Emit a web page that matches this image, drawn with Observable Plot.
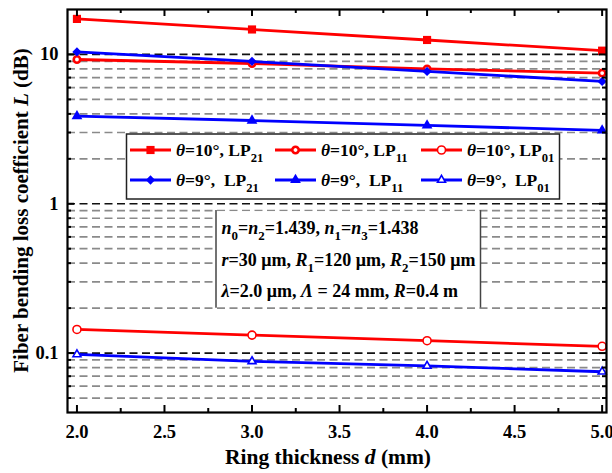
<!DOCTYPE html>
<html>
<head>
<meta charset="utf-8">
<script src="https://cdn.jsdelivr.net/npm/d3@7"></script>
<script src="https://cdn.jsdelivr.net/npm/@observablehq/plot@0.6"></script>
<style>
  body { margin: 0; background: #fff; }
  #chart svg { display: block; }
</style>
</head>
<body>
<div id="chart"></div>
<script>
// Ring thickness d (mm)
const thickness = [2.0, 3.0, 4.0, 5.0];

// Bending loss L (dB) for each angle / mode
const t10_LP21 = [17.3, 14.7, 12.5, 10.6];
const t10_LP11 = [9.25, 8.7, 8.0, 7.5];
const t10_LP01 = [0.144, 0.132, 0.121, 0.111];
const t9_LP21 = [10.4, 8.98, 7.7, 6.6];
const t9_LP11 = [3.86, 3.61, 3.35, 3.1];
const t9_LP01 = [0.098, 0.088, 0.082, 0.075];

// Axis ticks
const xMajor = [2.0, 2.5, 3.0, 3.5, 4.0, 4.5, 5.0];
const xMinor = [2.25, 2.75, 3.25, 3.75, 4.25, 4.75];
const yMajor = [0.1, 1, 10];
const yMinor = [0.05, 0.06, 0.07, 0.08, 0.09, 0.2, 0.3, 0.4, 0.5, 0.6, 0.7, 0.8, 0.9,
                2, 3, 4, 5, 6, 7, 8, 9];

const RED = "#ff0000", BLUE = "#0000ff";

const series = [
  {values: t10_LP21, color: RED,  symbol: "square",   fill: RED,    r: 4.6, sw: 0,   angle: "10", mode: "21", gap: " "},
  {values: t10_LP11, color: RED,  symbol: "circle",   fill: "#fff", r: 3.2, sw: 2.6, angle: "10", mode: "11", gap: " "},
  {values: t10_LP01, color: RED,  symbol: "circle",   fill: "#fff", r: 4.0, sw: 1.6, angle: "10", mode: "01", gap: " "},
  {values: t9_LP21,  color: BLUE, symbol: "diamond2", fill: BLUE,   r: 4.2, sw: 0,   angle: "9",  mode: "21", gap: "\u00a0\u00a0"},
  {values: t9_LP11,  color: BLUE, symbol: "triangle", fill: BLUE,   r: 4.0, sw: 0,   angle: "9",  mode: "11", gap: "\u00a0\u00a0"},
  {values: t9_LP01,  color: BLUE, symbol: "triangle2",fill: "#fff", r: 3.8, sw: 1.6, angle: "9",  mode: "01", gap: "\u00a0\u00a0"}
];

const W = 612, H = 473;
const mL = 67, mR = 6, mT = 9, mB = 61;
const innerW = W - mL - mR, innerH = H - mT - mB;
const FONT = "'Liberation Serif', 'Times New Roman', Times, serif";

const seriesMarks = series.flatMap(s => {
  const rows = thickness.map((d, i) => ({d, L: s.values[i]}));
  return [
    Plot.line(rows, {x: "d", y: "L", stroke: s.color, strokeWidth: 2.8}),
    Plot.dot(rows, {x: "d", y: "L", symbol: s.symbol, r: s.r, fill: s.fill,
                    stroke: s.sw ? s.color : "none", strokeWidth: s.sw})
  ];
});

const chart = Plot.plot({
  width: W, height: H,
  marginLeft: mL, marginRight: mR, marginTop: mT, marginBottom: mB,
  style: {fontFamily: FONT, fontWeight: "bold", fontSize: "18.5px", color: "#000", background: "#fff", overflow: "visible"},
  x: {domain: [1.946, 5.025]},
  y: {type: "log", domain: [0.04, 20]},
  marks: [
    Plot.ruleY(yMinor, {stroke: "#8a8a8a", strokeWidth: 1.7, strokeDasharray: "8,4.5"}),
    Plot.ruleY(yMajor, {stroke: "#111", strokeWidth: 1.7, strokeDasharray: "8,4.5"}),
    ...seriesMarks,
    // inward ticks on all four sides
    Plot.ruleX(xMajor, {insetTop: innerH - 7, stroke: "#000", strokeWidth: 2}),
    Plot.ruleX(xMinor, {insetTop: innerH - 4, stroke: "#000", strokeWidth: 2}),
    Plot.ruleX(xMajor, {insetBottom: innerH - 7, stroke: "#000", strokeWidth: 2}),
    Plot.ruleX(xMinor, {insetBottom: innerH - 4, stroke: "#000", strokeWidth: 2}),
    Plot.ruleY(yMajor, {insetRight: innerW - 7, stroke: "#000", strokeWidth: 2}),
    Plot.ruleY(yMinor, {insetRight: innerW - 4, stroke: "#000", strokeWidth: 2}),
    Plot.ruleY(yMajor, {insetLeft: innerW - 7, stroke: "#000", strokeWidth: 2}),
    Plot.ruleY(yMinor, {insetLeft: innerW - 4, stroke: "#000", strokeWidth: 2}),
    Plot.frame({stroke: "#000", strokeWidth: 2.2}),
    Plot.axisX({ticks: xMajor, tickSize: 0, tickPadding: 12, tickFormat: d3.format(".1f"), label: null}),
    Plot.axisY({ticks: yMajor, tickSize: 0, tickPadding: 9, tickFormat: d => String(d), label: null})
  ]
});

document.getElementById("chart").appendChild(chart);

const svg = d3.select(chart);
const ys = chart.scale("y");

// Writes a run of text pieces: {t, it: italic, sub: subscript}
function richText(g, x, y, pieces, size) {
  const text = g.append("text")
    .attr("x", x).attr("y", y)
    .attr("text-anchor", "start")
    .attr("font-family", FONT).attr("font-weight", "bold")
    .attr("font-size", size).attr("fill", "#000");
  let shifted = false;
  for (const p of pieces) {
    const ts = text.append("tspan").text(p.t);
    if (p.it) ts.attr("font-style", "italic");
    if (p.sub && !shifted) { ts.attr("dy", size * 0.32).attr("font-size", size * 0.72); shifted = true; }
    else if (p.sub) { ts.attr("font-size", size * 0.72); }
    else if (shifted) { ts.attr("dy", -size * 0.32); shifted = false; }
  }
  return text;
}

// Legend box
const legend = svg.append("g");
const lgTop = 134, lgBottom = 199, lgLeft = 126.5, lgRight = 559.5;
legend.append("rect")
  .attr("x", lgLeft).attr("y", lgTop)
  .attr("width", lgRight - lgLeft).attr("height", lgBottom - lgTop)
  .attr("fill", "#fff").attr("stroke", "#222").attr("stroke-width", 1.5);

const colX = [130, 275, 421];
const rowY = [150, 180];
series.forEach((s, i) => {
  const row = i < 3 ? 0 : 1, col = i % 3;
  const x0 = colX[col], cy = rowY[row];
  const g = legend.append("g");
  g.append("line").attr("x1", x0).attr("x2", x0 + 41).attr("y1", cy).attr("y2", cy)
    .attr("stroke", s.color).attr("stroke-width", 2.8);
  const sym = {square: d3.symbolSquare, circle: d3.symbolCircle, diamond2: d3.symbolDiamond2,
               triangle: d3.symbolTriangle, triangle2: d3.symbolTriangle2}[s.symbol];
  g.append("path")
    .attr("d", d3.symbol(sym, Math.PI * s.r * s.r)())
    .attr("transform", `translate(${x0 + 20.5},${cy})`)
    .attr("fill", s.fill)
    .attr("stroke", s.sw ? s.color : "none").attr("stroke-width", s.sw);
  richText(g, x0 + 46, cy + 6, [
    {t: "\u03b8", it: true},
    {t: `=${s.angle}\u00b0,${s.gap}LP`},
    {t: s.mode, sub: true}
  ], 17.5);
});

// Parameter box between the 0.9 and 0.2 grid lines
const pb = svg.append("g");
const pbLeft = 216, pbRight = 480.5;
const pbTop = ys.apply(0.9), pbBottom = ys.apply(0.2);
pb.append("rect")
  .attr("x", pbLeft).attr("y", pbTop + 1)
  .attr("width", pbRight - pbLeft).attr("height", pbBottom - pbTop - 2)
  .attr("fill", "#fff");
for (const px of [pbLeft, pbRight]) {
  pb.append("line").attr("x1", px).attr("x2", px).attr("y1", pbTop).attr("y2", pbBottom)
    .attr("stroke", "#444").attr("stroke-width", 1.5);
}
const pSize = 18;
richText(pb, 221.5, 234, [
  {t: "n", it: true}, {t: "0", sub: true}, {t: "="}, {t: "n", it: true}, {t: "2", sub: true},
  {t: "=1.439, "}, {t: "n", it: true}, {t: "1", sub: true}, {t: "="}, {t: "n", it: true},
  {t: "3", sub: true}, {t: "=1.438"}
], pSize);
richText(pb, 221.5, 266, [
  {t: "r", it: true}, {t: "=30 \u03bcm, "}, {t: "R", it: true}, {t: "1", sub: true},
  {t: "=120 \u03bcm, "}, {t: "R", it: true}, {t: "2", sub: true}, {t: "=150 \u03bcm"}
], pSize);
richText(pb, 221.5, 297, [
  {t: "\u03bb", it: true}, {t: "=2.0 \u03bcm, "}, {t: "\u039b", it: true}, {t: " = 24 mm, "},
  {t: "R", it: true}, {t: "=0.4 m"}
], pSize);

// Axis titles
const xt = svg.append("text")
  .attr("x", 328).attr("y", 464).attr("text-anchor", "middle")
  .attr("font-family", FONT).attr("font-weight", "bold").attr("font-size", 21.5).attr("fill", "#000");
xt.append("tspan").text("Ring thickness ");
xt.append("tspan").attr("font-style", "italic").text("d");
xt.append("tspan").text(" (mm)");

const yt = svg.append("text")
  .attr("transform", `translate(28,${(ys.apply(20) + ys.apply(0.04)) / 2}) rotate(-90)`)
  .attr("text-anchor", "middle")
  .attr("font-family", FONT).attr("font-weight", "bold").attr("font-size", 21).attr("fill", "#000");
yt.append("tspan").text("Fiber bending loss coefficient ");
yt.append("tspan").attr("font-style", "italic").text("L");
yt.append("tspan").text(" (dB)");
</script>
</body>
</html>
